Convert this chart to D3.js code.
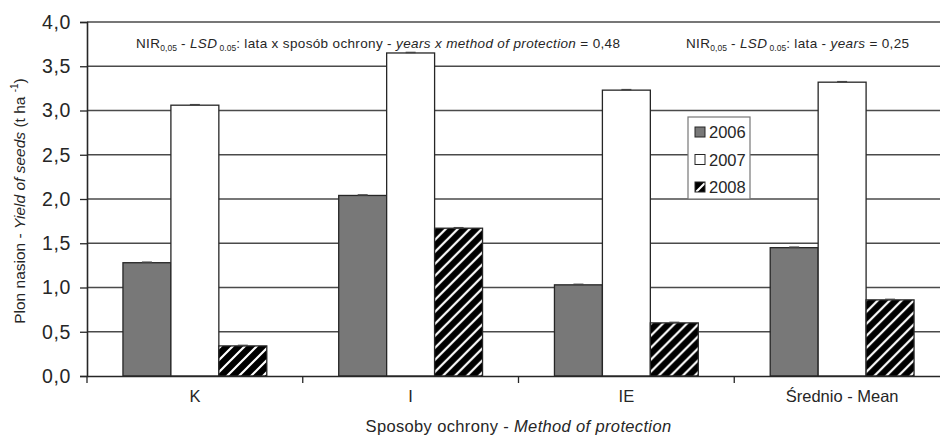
<!DOCTYPE html>
<html>
<head>
<meta charset="utf-8">
<script src="https://cdn.jsdelivr.net/npm/d3@7/dist/d3.min.js"></script>
<style>
  html, body { margin: 0; padding: 0; background: #fff; }
  svg { display: block; font-family: "Liberation Sans", Arial, sans-serif; }
</style>
</head>
<body>
<svg id="chart" width="940" height="438"></svg>
<script>
// Seed yield by method of protection and year
const categories = ["K", "I", "IE", "Średnio - Mean"];
const years = ["2006", "2007", "2008"];
const yield2006 = [1.28, 2.04, 1.03, 1.45];
const yield2007 = [3.06, 3.65, 3.23, 3.32];
const yield2008 = [0.34, 1.67, 0.60, 0.86];
const yTicks = [0, 0.5, 1, 1.5, 2, 2.5, 3, 3.5, 4];

const seriesValues = [yield2006, yield2007, yield2008];

const svg = d3.select("#chart");
const W = 940, H = 438;
const plotLeft = 87, plotTop = 22, plotBottom = 376;
const plotRight = 950; // plot area runs past the right edge of the canvas

const ink = "#262626";

// Fills: grey, white, black with white diagonal stripes
const defs = svg.append("defs");
const hatch = defs.append("pattern")
  .attr("id", "hatch").attr("patternUnits", "userSpaceOnUse")
  .attr("width", 12).attr("height", 12);
hatch.append("rect").attr("width", 12).attr("height", 12).attr("fill", "#000");
hatch.append("path")
  .attr("d", "M-3,3 L3,-3 M0,12 L12,0 M9,15 L15,9")
  .attr("stroke", "#fff").attr("stroke-width", 2.2);

const hatchSmall = defs.append("pattern")
  .attr("id", "hatchSmall").attr("patternUnits", "objectBoundingBox")
  .attr("width", 1).attr("height", 1);
hatchSmall.append("rect").attr("width", 10).attr("height", 10).attr("fill", "#000");
hatchSmall.append("path")
  .attr("d", "M1,10 L10,1").attr("stroke", "#fff").attr("stroke-width", 2.2);

const fills = ["#787878", "#ffffff", "url(#hatch)"];
const legendFills = ["#787878", "#ffffff", "url(#hatchSmall)"];

const x = d3.scaleBand().domain(categories).range([plotLeft, plotRight]).paddingInner(0).paddingOuter(0);
const bw = x.bandwidth();
const xs = d3.scaleBand().domain(years).range([bw / 6, bw * 5 / 6]).padding(0);
const y = d3.scaleLinear().domain([0, 4]).range([plotBottom, plotTop]);

// Gridlines
svg.append("g")
  .selectAll("line").data(yTicks.filter(d => d > 0)).join("line")
  .attr("x1", plotLeft).attr("x2", W)
  .attr("y1", d => y(d)).attr("y2", d => y(d))
  .attr("stroke", "#4a4a4a").attr("stroke-width", 1.4);

// Bars
const groups = svg.append("g").selectAll("g").data(categories).join("g")
  .attr("transform", d => `translate(${x(d)},0)`);

groups.selectAll("rect")
  .data((c, i) => years.map((yr, s) => ({ yr, s, v: seriesValues[s][i] })))
  .join("rect")
  .attr("x", d => xs(d.yr))
  .attr("y", d => y(d.v))
  .attr("width", xs.bandwidth())
  .attr("height", d => y(0) - y(d.v))
  .attr("fill", d => fills[d.s])
  .attr("stroke", ink).attr("stroke-width", 1.3);

// Small error caps on the bar tops
groups.selectAll("line.cap")
  .data((c, i) => years.map((yr, s) => ({ yr, s, v: seriesValues[s][i] })))
  .join("line").attr("class", "cap")
  .attr("x1", d => xs(d.yr) + xs.bandwidth() / 2 - 5)
  .attr("x2", d => xs(d.yr) + xs.bandwidth() / 2 + 5)
  .attr("y1", d => y(d.v) - 0.5).attr("y2", d => y(d.v) - 0.5)
  .attr("stroke", "#444").attr("stroke-width", 1.5);

// Y axis
const yAxis = d3.axisLeft(y).tickValues(yTicks).tickSize(7).tickPadding(9)
  .tickFormat(d => d3.format(".1f")(d).replace(".", ","));
const gy = svg.append("g").attr("transform", `translate(${plotLeft},0)`).call(yAxis);
gy.select(".domain").attr("stroke", ink).attr("stroke-width", 1.6);
gy.selectAll(".tick line").attr("stroke", ink).attr("stroke-width", 1.3);
gy.selectAll(".tick text")
  .attr("font-size", 19.5).attr("fill", ink)
  .attr("font-family", "'Liberation Sans', Arial, sans-serif")
  .attr("letter-spacing", 0.6);

// X axis
const xAxis = d3.axisBottom(x).tickSize(0).tickPadding(14);
const gx = svg.append("g").attr("transform", `translate(0,${plotBottom})`).call(xAxis);
gx.select(".domain").attr("stroke", ink).attr("stroke-width", 1.6);
gx.selectAll(".tick text")
  .attr("font-size", 16.5).attr("fill", ink)
  .attr("font-family", "'Liberation Sans', Arial, sans-serif");
// Category separators below the axis
svg.append("g").selectAll("line")
  .data(categories).join("line")
  .attr("x1", d => x(d)).attr("x2", d => x(d))
  .attr("y1", plotBottom).attr("y2", plotBottom + 7)
  .attr("stroke", ink).attr("stroke-width", 1.3);

// Axis titles
const xt = svg.append("text")
  .attr("x", (plotLeft + plotRight) / 2).attr("y", 432).attr("text-anchor", "middle")
  .attr("font-size", 16.5).attr("letter-spacing", 0.35).attr("fill", ink);
xt.append("tspan").text("Sposoby ochrony - ");
xt.append("tspan").attr("font-style", "italic").text("Method of protection");

const yt = svg.append("text")
  .attr("transform", "translate(25,201) rotate(-90)")
  .attr("text-anchor", "middle").attr("font-size", 15.5).attr("fill", ink);
yt.append("tspan").text("Plon nasion - ");
yt.append("tspan").attr("font-style", "italic").text("Yield of seeds");
yt.append("tspan").text("  (t ha ");
yt.append("tspan").attr("font-size", 10).attr("dy", -7).text("-1");
yt.append("tspan").attr("dy", 7).text(")");

// LSD annotations
function lsdLabel(xPos, parts) {
  const t = svg.append("text").attr("x", xPos).attr("y", 48)
    .attr("font-size", 13.5).attr("letter-spacing", 0.35).attr("fill", ink);
  t.append("tspan").text("NIR");
  t.append("tspan").attr("font-size", 8.5).attr("letter-spacing", 0).attr("dy", 3).text("0,05");
  t.append("tspan").attr("dy", -3).text(" - ");
  t.append("tspan").attr("font-style", "italic").text("LSD");
  t.append("tspan").attr("font-size", 8.5).attr("letter-spacing", 0).attr("dy", 3).text(" 0.05");
  t.append("tspan").attr("dy", -3).text(":" + parts[0]);
  t.append("tspan").attr("font-style", "italic").text(parts[1]);
  t.append("tspan").text(parts[2]);
}
lsdLabel(136, ["  lata x sposób ochrony - ", "years x method of protection", "  =  0,48"]);
lsdLabel(686, [" lata - ", "years", "  = 0,25"]);

// Legend
const lg = svg.append("g").attr("transform", "translate(688,117)");
lg.append("rect").attr("width", 62).attr("height", 82)
  .attr("fill", "#fff").attr("stroke", "#777").attr("stroke-width", 1.2);
const items = lg.selectAll("g").data(years).join("g")
  .attr("transform", (d, i) => `translate(7,${15 + i * 27.5})`);
items.append("rect").attr("x", 0).attr("y", -5).attr("width", 10).attr("height", 10)
  .attr("fill", (d, i) => legendFills[i]).attr("stroke", ink).attr("stroke-width", 1);
items.append("text").attr("x", 14).attr("y", 6)
  .attr("font-size", 16.5).attr("fill", ink).text(d => d);
</script>
</body>
</html>
